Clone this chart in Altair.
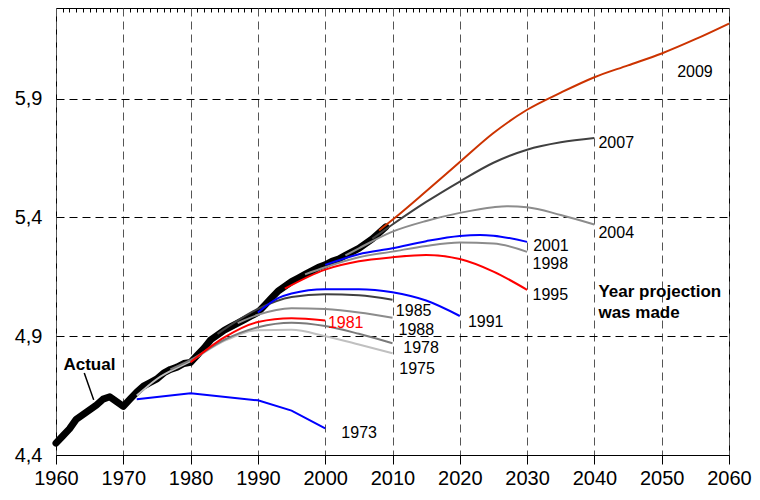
import altair as alt
import pandas as pd

# ---- data ----
actual_years = list(range(1960, 2010))
actual_values = [4.45, 4.48, 4.51, 4.55, 4.57, 4.59, 4.61, 4.635, 4.645, 4.625,
                 4.605, 4.635, 4.665, 4.69, 4.705, 4.72, 4.745, 4.76, 4.77, 4.785,
                 4.79, 4.82, 4.85, 4.885, 4.905, 4.925, 4.94, 4.955, 4.97, 4.985,
                 5.00, 5.03, 5.06, 5.09, 5.11, 5.13, 5.145, 5.16, 5.175, 5.19,
                 5.20, 5.215, 5.225, 5.24, 5.255, 5.27, 5.29, 5.31, 5.335, 5.36]

p1973_years = [1972, 1980, 1990, 1995, 2000]
p1973_vals = [4.635, 4.66, 4.63, 4.587, 4.512]
p1975_years = [1972, 1975, 1980, 1985, 1990, 1995, 2000, 2005, 2010]
p1975_vals = [4.65, 4.72, 4.795, 4.88, 4.925, 4.927, 4.90, 4.865, 4.828]
p1978_years = [1977, 1980, 1985, 1990, 1995, 2000, 2005, 2010]
p1978_vals = [4.76, 4.80, 4.885, 4.938, 4.957, 4.943, 4.91, 4.87]
p1981_years = [1980, 1985, 1990, 1995, 2000]
p1981_vals = [4.79, 4.895, 4.96, 4.976, 4.966]
p1985_years = [1984, 1990, 1995, 2000, 2005, 2010]
p1985_vals = [4.91, 5.015, 5.065, 5.077, 5.072, 5.053]
p1988_years = [1987, 1990, 1995, 2000, 2005, 2010]
p1988_vals = [4.955, 4.99, 5.018, 5.014, 5.0, 4.978]
p1991_years = [1990, 1993, 1995, 2000, 2005, 2010, 2015, 2020]
p1991_vals = [5.0, 5.06, 5.08, 5.098, 5.098, 5.085, 5.05, 4.985]
p1995_years = [1994, 2000, 2005, 2010, 2015, 2020, 2025, 2030]
p1995_vals = [5.10, 5.18, 5.215, 5.232, 5.242, 5.225, 5.172, 5.095]
p1998_years = [1997, 2000, 2005, 2010, 2015, 2020, 2025, 2030]
p1998_vals = [5.16, 5.19, 5.232, 5.256, 5.28, 5.294, 5.29, 5.255]
p2001_years = [2000, 2005, 2010, 2015, 2020, 2023, 2025, 2030]
p2001_vals = [5.20, 5.245, 5.27, 5.30, 5.322, 5.326, 5.323, 5.297]
p2004_years = [2003, 2005, 2010, 2015, 2020, 2025, 2027, 2030, 2035, 2040]
p2004_vals = [5.24, 5.27, 5.34, 5.385, 5.419, 5.443, 5.447, 5.443, 5.41, 5.37]
p2007_years = [2007, 2010, 2015, 2020, 2025, 2030, 2035, 2040]
p2007_vals = [5.31, 5.37, 5.465, 5.551, 5.63, 5.685, 5.716, 5.734]
p2009_years = [2008, 2010, 2015, 2020, 2025, 2030, 2035, 2040, 2045, 2050, 2055, 2060]
p2009_vals = [5.345, 5.39, 5.51, 5.633, 5.755, 5.853, 5.925, 5.99, 6.04, 6.09, 6.15, 6.216]

series_names = ["1975", "1978", "1981", "1985", "1988", "1991", "1995",
                "1998", "2001", "2004", "2007", "2009"]
series_colors = ["#c0c0c0", "#7a7a7a", "#ff0000", "#404040", "#8c8c8c", "#0000ff",
                 "#ff0000", "#8c8c8c", "#0000ff", "#8c8c8c", "#404040", "#cc3300"]

label_text = ["2009", "2007", "2004", "2001", "1998", "1995", "1991", "1985", "1988",
              "1978", "1975", "1981", "1973"]
label_x = [2052.3, 2040.6, 2040.6, 2030.9, 2030.8, 2030.8, 2021.2, 2010.5, 2010.9,
           2011.6, 2011.0, 2000.4, 2002.4]
label_y = [6.012, 5.714, 5.336, 5.278, 5.203, 5.074, 4.961, 5.004, 4.927,
           4.849, 4.761, 4.957, 4.493]
label_color = ["black"] * 11 + ["#ff0000"] + ["black"]

bold_text = ["Year projection", "was made", "Actual"]
bold_x = [2040.6, 2040.6, 1961.1]
bold_y = [5.088, 4.999, 4.779]

pointer_x = [1964.2]
pointer_y = [4.745]
pointer_x2 = [1965.6]
pointer_y2 = [4.632]

x_major = [1960, 1970, 1980, 1990, 2000, 2010, 2020, 2030, 2040, 2050, 2060]
x_minor = [y for y in range(1961, 2060) if y % 10 != 0]
y_ticks = [4.4, 4.9, 5.4, 5.9]

# ---- tables ----
actual_df = pd.DataFrame({"year": actual_years, "value": actual_values})
proj_map = {
    "1975": (p1975_years, p1975_vals), "1978": (p1978_years, p1978_vals),
    "1981": (p1981_years, p1981_vals), "1985": (p1985_years, p1985_vals),
    "1988": (p1988_years, p1988_vals), "1991": (p1991_years, p1991_vals),
    "1995": (p1995_years, p1995_vals), "1998": (p1998_years, p1998_vals),
    "2001": (p2001_years, p2001_vals), "2004": (p2004_years, p2004_vals),
    "2007": (p2007_years, p2007_vals), "2009": (p2009_years, p2009_vals),
}
rows = []
for name, (ys, vs) in proj_map.items():
    for i, (yy, vv) in enumerate(zip(ys, vs)):
        rows.append({"series": name, "year": yy, "value": vv, "order": i})
proj_df = pd.DataFrame(rows)
p73_df = pd.DataFrame({"year": p1973_years, "value": p1973_vals})
labels_df = pd.DataFrame({"text": label_text, "year": label_x, "value": label_y,
                          "color": label_color})
bold_df = pd.DataFrame({"text": bold_text, "year": bold_x, "value": bold_y})
pointer_df = pd.DataFrame({"year": pointer_x, "value": pointer_y,
                           "year2": pointer_x2, "value2": pointer_y2})

FONT = "Liberation Sans"
xscale = alt.Scale(domain=[1960, 2060], nice=False, zero=False)
yscale = alt.Scale(domain=[4.4, 6.2813], nice=False, zero=False)

x_main_axis = alt.Axis(values=x_major, format="d", title=None, grid=True,
                       gridColor="#555555", gridDash=[8, 5], gridWidth=1,
                       tickSize=9, tickColor="black", domainColor="black",
                       labelFontSize=20, labelFont=FONT, labelColor="black",
                       labelPadding=4, labelFlush=False, labelOverlap=False)
x_minor_axis = alt.Axis(values=x_minor, title=None, grid=False, labels=False,
                        domain=False, tickSize=4, tickColor="black", offset=-4)
y_axis = alt.Axis(values=y_ticks, title=None, grid=True, gridColor="black",
                  gridDash=[8, 5], gridWidth=1, ticks=False, tickSize=0,
                  domain=False, labelFontSize=20, labelFont=FONT, labelColor="black",
                  labelPadding=14,
                  labelExpr="replace(format(datum.value, '.1f'), '.', ',')")

Y = alt.Y("value:Q", scale=yscale, axis=y_axis)

actual = alt.Chart(actual_df).mark_line(
    color="black", strokeWidth=7, strokeCap="round", strokeJoin="round"
).encode(
    x=alt.X("year:Q", scale=xscale, axis=x_main_axis),
    y=Y,
)

proj = alt.Chart(proj_df).mark_line(strokeWidth=2, interpolate="monotone").encode(
    x=alt.X("year:Q", scale=xscale, axis=x_minor_axis),
    y=Y,
    color=alt.Color("series:N", scale=alt.Scale(domain=series_names, range=series_colors),
                    legend=None),
    order="order:Q",
)

p73 = alt.Chart(p73_df).mark_line(strokeWidth=2, color="#0000ff").encode(
    x=alt.X("year:Q", scale=xscale, axis=None),
    y=Y,
)

labels = alt.Chart(labels_df).mark_text(
    align="left", baseline="middle", fontSize=16, font=FONT
).encode(
    x=alt.X("year:Q", scale=xscale, axis=None),
    y=Y,
    text="text:N",
    color=alt.Color("color:N", scale=None),
)

bold_labels = alt.Chart(bold_df).mark_text(
    align="left", baseline="middle", fontSize=17, font=FONT, fontWeight="bold",
    color="black"
).encode(
    x=alt.X("year:Q", scale=xscale, axis=None),
    y=Y,
    text="text:N",
)

pointer = alt.Chart(pointer_df).mark_rule(color="black", strokeWidth=1.5).encode(
    x=alt.X("year:Q", scale=xscale, axis=None),
    y=Y,
    x2="year2:Q",
    y2="value2:Q",
)

chart = alt.layer(actual, proj, p73, labels, bold_labels, pointer).resolve_axis(
    x="independent"
).properties(
    width=673, height=447,
    padding={"left": 48, "top": 0, "right": 23, "bottom": 33},
    autosize=alt.AutoSizeParams(type="none"),
    background="white",
).configure_view(
    stroke="black", strokeWidth=1
)

chart.save("out.html", embed_options={"renderer": "svg", "actions": False})
